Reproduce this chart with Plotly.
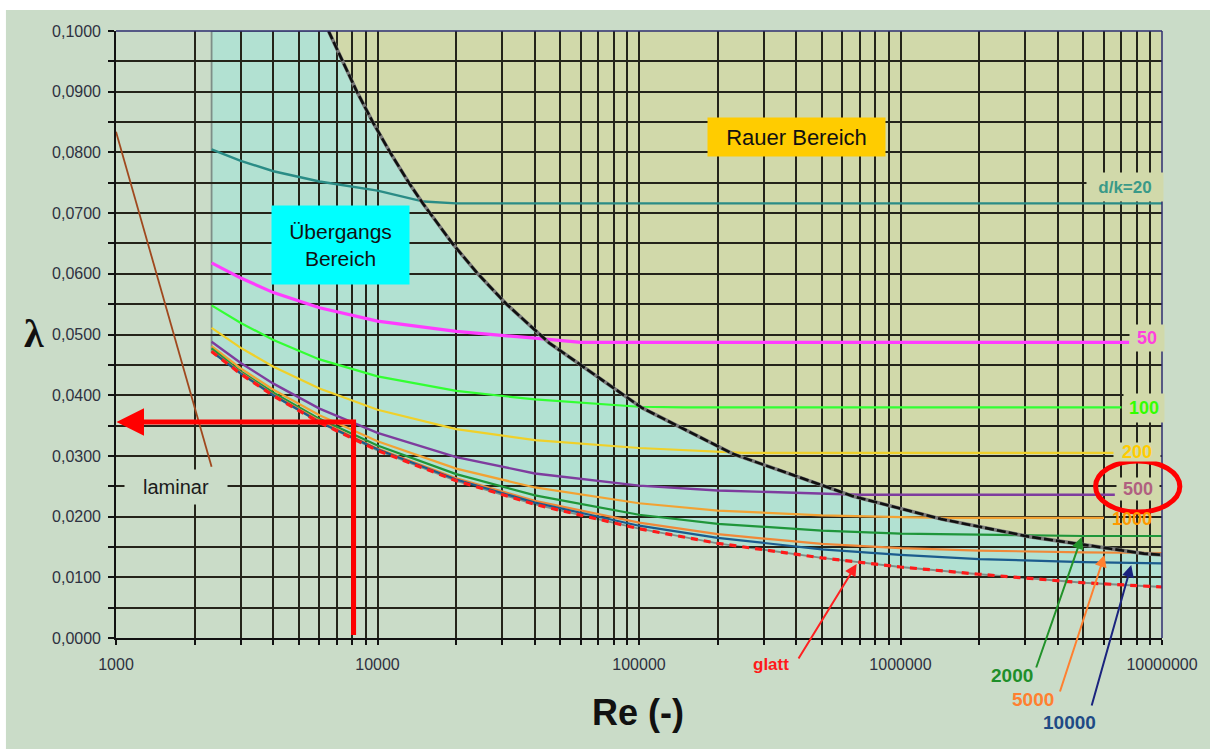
import numpy as np
import plotly.graph_objects as go

# ---------------- data ----------------
re_grid = [2320, 3000, 4000, 6000, 10000, 20000, 40000, 100000, 200000,
           500000, 1000000, 2000000, 5000000, 10000000]

smooth_lambda = [0.0472, 0.0435, 0.0399, 0.0355, 0.0309, 0.0259, 0.0220, 0.0180,
                 0.0156, 0.0132, 0.0117, 0.0105, 0.0091, 0.0084]

dk20_re = [2320, 3000, 4000, 6000, 10000, 15000, 20000, 100000, 1000000, 10000000]
dk20_lambda = [0.0805, 0.0786, 0.0769, 0.0752, 0.0737, 0.0719, 0.0716, 0.0716, 0.0716, 0.0716]

dk50_re = [2320, 3000, 4000, 6000, 10000, 20000, 40000, 60000, 7500000]
dk50_lambda = [0.0618, 0.0593, 0.0569, 0.0544, 0.0522, 0.0505, 0.0494, 0.0487, 0.0487]

dk100_re = [2320, 3000, 4000, 6000, 10000, 20000, 40000, 100000, 150000, 7000000]
dk100_lambda = [0.0548, 0.0519, 0.0491, 0.0459, 0.0431, 0.0407, 0.0393, 0.0381, 0.0380, 0.0380]

dk200_re = [2320, 3000, 4000, 6000, 10000, 20000, 40000, 100000, 250000, 6600000]
dk200_lambda = [0.0511, 0.0478, 0.0447, 0.0411, 0.0376, 0.0344, 0.0326, 0.0313, 0.0305, 0.0305]

dk500_re = [2320, 3000, 4000, 6000, 10000, 20000, 40000, 100000, 200000, 500000, 700000, 6600000]
dk500_lambda = [0.0488, 0.0453, 0.0419, 0.0378, 0.0338, 0.0298, 0.0271, 0.0251, 0.0243,
                0.0238, 0.0236, 0.0236]

dk1000_re = [2320, 3000, 4000, 6000, 10000, 20000, 40000, 100000, 200000, 500000,
             1000000, 1500000, 6000000]
dk1000_lambda = [0.0481, 0.0444, 0.0409, 0.0367, 0.0324, 0.0279, 0.0248, 0.0222, 0.0210,
                 0.0202, 0.0199, 0.0198, 0.0198]

dk2000_lambda = [0.0477, 0.0439, 0.0404, 0.0361, 0.0317, 0.0270, 0.0235, 0.0203, 0.0188,
                 0.0177, 0.0172, 0.0170, 0.0168, 0.0168]
dk5000_lambda = [0.0473, 0.0437, 0.0401, 0.0358, 0.0312, 0.0263, 0.0226, 0.0190, 0.0171,
                 0.0155, 0.0148, 0.0144, 0.0141, 0.0140]
dk10000_lambda = [0.0472, 0.0436, 0.0400, 0.0356, 0.0311, 0.0261, 0.0223, 0.0185, 0.0165,
                  0.0146, 0.0137, 0.0130, 0.0125, 0.0123]

# border between transition and rough region
bound_re = [6496, 8341, 9593, 11172, 13182, 14963, 19337, 24194, 31153, 45372, 102770,
            229620, 653720, 1427800, 3096200, 8537000, 10000000]
bound_lambda = [0.1, 0.09, 0.085, 0.08, 0.075, 0.0715, 0.065, 0.06, 0.055, 0.0486, 0.0379,
                0.0303, 0.0234, 0.0196, 0.0167, 0.0139, 0.0137]

laminar_re = [1000, 2320]
laminar_lambda = [0.0834, 0.0282]

re_crit = 2320
lambda_max = 0.1
re_max = 10000000

example_re = 8100
example_lambda = 0.0356

x_tick_decades = [1000, 10000, 100000, 1000000, 10000000]

# ---------------- styling ----------------
W, H = 1210, 749
L, R, T, B = 116, 39, 31, 111
PW, PH = W - L - R, H - T - B


def PX(px):
    return (px - L) / PW


def PY(py):
    return (H - B - py) / PH


PAPER = "#CADCC8"
TEAL_FILL = "#B2E1D2"
ROUGH_FILL = "#D1D9AA"
GRID = "#24241A"
FONT = "Arial, Liberation Sans, sans-serif"

fig = go.Figure()


def path_from(xs, ys):
    pts = ["{} {},{}".format("M" if i == 0 else "L", x, y) for i, (x, y) in enumerate(zip(xs, ys))]
    return " ".join(pts) + " Z"


# transition region polygon
tx = [re_crit] + re_grid + list(reversed(bound_re))
ty = [lambda_max] + smooth_lambda + list(reversed(bound_lambda))
# rough region polygon
rx = bound_re + [re_max]
ry = bound_lambda + [lambda_max]

shapes = [
    dict(type="path", xref="x", yref="y", path=path_from(rx, ry), fillcolor=ROUGH_FILL,
         line=dict(width=0), layer="below"),
    dict(type="path", xref="x", yref="y", path=path_from(tx, ty), fillcolor=TEAL_FILL,
         line=dict(color="#7E8E88", width=1.8), layer="below"),
]

# curves
fig.add_trace(go.Scatter(x=laminar_re, y=laminar_lambda, mode="lines",
                         line=dict(color="#A0481E", width=1.8), hoverinfo="skip"))

curves = [
    (dk20_re, dk20_lambda, "#2A8C86", 2.4),
    (dk50_re, dk50_lambda, "#FF3CFF", 3.2),
    (dk100_re, dk100_lambda, "#33FF33", 2.2),
    (dk200_re, dk200_lambda, "#EFD02A", 2.2),
    (dk500_re, dk500_lambda, "#7E3C9E", 2.4),
    (dk1000_re, dk1000_lambda, "#F2A233", 2.2),
    (re_grid, dk2000_lambda, "#1F963A", 2.2),
    (re_grid, dk5000_lambda, "#F08838", 2.2),
    (re_grid, dk10000_lambda, "#1B5C8E", 2.2),
]
for xs, ys, c, w in curves:
    fig.add_trace(go.Scatter(x=xs, y=ys, mode="lines", line=dict(color=c, width=w),
                             hoverinfo="skip"))

# smooth pipe (glatt)
fig.add_trace(go.Scatter(x=re_grid, y=smooth_lambda, mode="lines",
                         line=dict(color="#FF1A1A", width=3.2, dash="7px,6px"), hoverinfo="skip"))

# border curve
fig.add_trace(go.Scatter(x=bound_re, y=bound_lambda, mode="lines",
                         line=dict(color="#7A7A7A", width=3.6), hoverinfo="skip"))
fig.add_trace(go.Scatter(x=bound_re, y=bound_lambda, mode="lines",
                         line=dict(color="#101010", width=2.6, dash="9px,3px"), hoverinfo="skip"))

# example reading arrow (vertical part)
fig.add_trace(go.Scatter(x=[example_re, example_re], y=[0.0005, example_lambda + 0.0004],
                         mode="lines", line=dict(color="#FF0000", width=5), hoverinfo="skip"))

# ---------------- axes ----------------
x_tickvals, x_ticktext = [], []
for d in x_tick_decades[:-1]:
    for m in range(1, 10):
        x_tickvals.append(m * d)
        x_ticktext.append(str(d) if m == 1 else "")
x_tickvals.append(x_tick_decades[-1])
x_ticktext.append(str(x_tick_decades[-1]))

y_tickvals = [round(i * 0.005, 4) for i in range(21)]
y_ticktext = [("{:.4f}".format(v)).replace(".", ",") if i % 2 == 0 else ""
              for i, v in enumerate(y_tickvals)]

fig.update_xaxes(type="log", range=[np.log10(1000), np.log10(re_max)],
                 tickmode="array", tickvals=x_tickvals, ticktext=x_ticktext,
                 showgrid=True, gridcolor=GRID, gridwidth=1.6,
                 showline=True, linecolor="#111111", linewidth=1.6,
                 ticks="outside", ticklen=5, tickcolor="#111111", tickwidth=1.5,
                 ticklabelstandoff=6,
                 tickfont=dict(family=FONT, size=16, color="#2E3140"), zeroline=False)
fig.update_yaxes(range=[0, lambda_max], tickmode="array", tickvals=y_tickvals,
                 ticktext=y_ticktext, showgrid=True, gridcolor=GRID, gridwidth=1.6,
                 showline=True, linecolor="#111111", linewidth=1.6,
                 ticks="outside", ticklen=6, tickcolor="#111111", tickwidth=1.5,
                 ticklabelstandoff=4,
                 tickfont=dict(family=FONT, size=16, color="#2E3140"), zeroline=False)

# ---------------- decorations ----------------
shapes += [
    # top and right border
    dict(type="line", xref="paper", yref="paper", x0=0, x1=1, y0=1, y1=1,
         line=dict(color="#2E2E70", width=1.5), layer="above"),
    dict(type="line", xref="paper", yref="paper", x0=1, x1=1, y0=0, y1=1,
         line=dict(color="#2E2E70", width=1.5), layer="above"),
    # white strips of the picture frame
    dict(type="rect", xref="paper", yref="paper", x0=PX(-5), x1=PX(W + 20), y0=PY(10), y1=PY(-5),
         fillcolor="white", line=dict(width=0), layer="above"),
    dict(type="rect", xref="paper", yref="paper", x0=PX(-5), x1=PX(5), y0=PY(H + 5), y1=PY(-5),
         fillcolor="white", line=dict(width=0), layer="above"),
    # red ellipse round "500"
    dict(type="circle", xref="paper", yref="paper", x0=PX(1104), x1=PX(1189),
         y0=PY(512), y1=PY(461), line=dict(color="#FF0000", width=5), layer="above"),
]

ann = []


def label(text, cx, cy, size, color, bold=False, bg=None, w=None, h=None, family=FONT):
    t = "<b>{}</b>".format(text) if bold else text
    d = dict(text=t, xref="paper", yref="paper", x=PX(cx), y=PY(cy), showarrow=False,
             xanchor="center", yanchor="middle",
             font=dict(family=family, size=size, color=color))
    if bg:
        d["bgcolor"] = bg
    if w:
        d["width"] = w
    if h:
        d["height"] = h
    ann.append(d)


def arrow(hx, hy, tx_, ty_, color, width=2):
    ann.append(dict(text="", xref="paper", yref="paper", x=PX(hx), y=PY(hy),
                    ax=tx_ - hx, ay=ty_ - hy, showarrow=True, arrowhead=2, arrowsize=1.2,
                    arrowwidth=width, arrowcolor=color))


label("Rauer Bereich", 802, 137, 22, "#111111", bg="#FFCC00", w=175, h=36)
label("Übergangs<br>Bereich", 342, 245, 21, "#111111", bg="#00FFFF", w=135, h=76)
label("laminar", 177, 487, 20, "#1A1A1A", bg=PAPER, w=100, h=32)

label("d/k=20", 1134, 187, 17, "#3A9A88", bold=True, bg=ROUGH_FILL, w=74, h=26)
label("50", 1156, 338, 18, "#FF40DD", bold=True, bg=ROUGH_FILL, w=32, h=24)
label("100", 1153, 408, 18, "#33FF00", bold=True, bg=ROUGH_FILL, w=38, h=26)
label("200", 1146, 452, 18, "#FFCC00", bold=True, bg=ROUGH_FILL, w=44, h=16)
label("500", 1147, 489, 18, "#B06080", bold=True, bg=ROUGH_FILL, w=40, h=20)
label("1000", 1141, 519, 18, "#FF9900", bold=True)

label("glatt", 777, 665, 17, "#FF1A1A", bold=True)
label("2000", 1020, 675, 19, "#1F8F2A", bold=True)
label("5000", 1041, 699, 19, "#FF8030", bold=True)
label("10000", 1078, 722, 19, "#1F4A85", bold=True)

arrow(863, 564, 804, 660, "#FF2020")
arrow(1090, 537, 1044, 669, "#22922A")
arrow(1113, 555, 1068, 693, "#FF8030")
arrow(1140, 565, 1100, 707, "#1A237E")

# horizontal part of example arrow with head at the lambda axis
ann.append(dict(text="", xref="x", yref="y", axref="x", ayref="y",
                x=np.log10(1000) + 0.002, y=example_lambda,
                ax=np.log10(example_re) + 0.004, ay=example_lambda,
                showarrow=True, arrowhead=2, arrowsize=1.1, arrowwidth=5,
                arrowcolor="#FF0000", standoff=0))

# axis titles
label("Re (-)", 642, 712, 36, "#111111", bold=True)
label("λ", 33, 333, 40, "#111111", bold=True, family="Liberation Serif, DejaVu Serif, serif")

fig.update_layout(
    width=W, height=H, margin=dict(l=L, r=R, t=T, b=B, pad=0),
    paper_bgcolor=PAPER, plot_bgcolor=PAPER, showlegend=False,
    shapes=shapes, annotations=ann, font=dict(family=FONT),
)

fig.write_html("out.html")
